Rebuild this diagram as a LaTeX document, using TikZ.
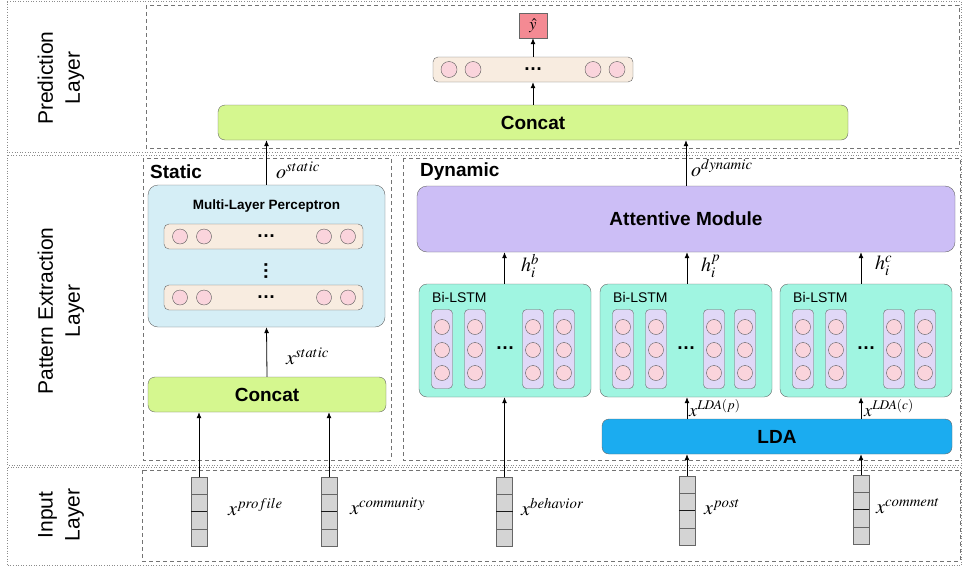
\documentclass[tikz,border=0pt]{standalone}
\usepackage{mathptmx}
\usepackage[no-math]{fontspec}
\setmainfont{Liberation Sans}
\usetikzlibrary{arrows.meta,calc,positioning}
\definecolor{catgreen}{RGB}{213,247,143}
\definecolor{mlpblue}{RGB}{213,238,246}
\definecolor{lstmgreen}{RGB}{160,245,225}
\definecolor{collav}{RGB}{224,216,247}
\definecolor{neupink}{RGB}{250,212,220}
\definecolor{rowbeige}{RGB}{248,236,224}
\definecolor{attlav}{RGB}{204,190,246}
\definecolor{ldablue}{RGB}{27,172,240}
\definecolor{yred}{RGB}{244,138,147}
\begin{document}
\begin{tikzpicture}[x=1pt, y=-1pt,
  frameout/.style = {draw=black!45, dotted, line width=0.6pt},
  framein/.style = {draw=black!55, dash pattern=on 4pt off 3pt, line width=0.6pt},
  layer/.style = {rotate=90, align=center, font=\fontsize{21}{27}\selectfont},
  head/.style = {anchor=west, inner sep=0pt, font=\fontsize{19}{22}\selectfont\bfseries},
  block/.style = {draw=black!60, rounded corners=7pt, inner sep=0pt, font=\fontsize{19}{22}\selectfont\bfseries},
  row/.style = {draw=black!60, fill=rowbeige, rounded corners=5pt, minimum width=199, minimum height=25},
  neuron/.style = {draw=black!65, fill=neupink, circle, minimum size=15, inner sep=0pt},
  col/.style = {draw=black!60, fill=collav, rounded corners=4pt, minimum width=21, minimum height=79},
  lstm/.style = {draw=black!60, fill=lstmgreen, rounded corners=8pt, minimum width=172, minimum height=113},
  vec/.style = {draw=black!60, fill=black!17, minimum width=16, minimum height=69, inner sep=0pt},
  dots/.style = {inner sep=0pt, font=\fontsize{19}{20}\selectfont\bfseries},
  lbl/.style = {anchor=west, inner sep=1pt, font=\fontsize{20}{24}\selectfont},
  arr/.style = {-{Latex[length=6pt,width=5pt]}, line width=0.8pt}]
  \useasboundingbox (0,0) rectangle (963,568);
  % layer frames
  \draw[frameout] (7,1.5) rectangle (961.5,152.5);
  \draw[frameout] (7,155) rectangle (961.5,465);
  \draw[frameout] (7,467.5) rectangle (961.5,565.5);
  \draw[framein] (146,5) rectangle (959,148);
  \draw[framein] (143,158) rectangle (391,460);
  \draw[framein] (403,158) rectangle (960,460);
  \draw[framein] (142,470) rectangle (960,561);
  \node[layer] (lpred) at (61,78) {Prediction\\Layer};
  \node[layer] (lpat) at (61,311) {Pattern Extraction\\Layer};
  \node[layer] (linp) at (61,515) {Input\\Layer};
  % prediction
  \node[block, fill=catgreen, minimum width=630, minimum height=35] (cat1) at (533,122.5) {Concat};
  \node[row, minimum width=200] (pred) at (533,69.5) {};
  \foreach \cx [count=\i] in {449,473,593,617}
    \node[neuron, minimum size=16] (p\i) at (\cx,69.5) {};
  \node[dots] (pdots) at (533,69.5) {…};
  \node[draw=black!60, fill=yred, minimum width=28, minimum height=25, inner sep=0pt, font=\fontsize{16}{18}\selectfont] (yhat) at (533,25.5) {$\hat{y}$};
  \draw[arr] (cat1.north) -- (pred.south);
  \draw[arr] (pred.north) -- (yhat.south);
  % static
  \node[head] (lstat) at (150,172) {Static};
  \node[block, fill=mlpblue, rounded corners=10pt, minimum width=237, minimum height=142] (mlp) at (266.5,256) {};
  \node[font=\fontsize{13.5}{15}\selectfont\bfseries] (mlpt) at (266.5,206) {Multi-Layer Perceptron};
  \foreach \ry [count=\j] in {236.5,297.5} {
    \node[row] (r\j) at (263.5,\ry) {};
    \foreach \cx [count=\i] in {180,204,324,348}
      \node[neuron] (r\j\i) at (\cx,\ry) {};
    \node[dots] (rd\j) at (266,\ry) {…};
  }
  \node[dots, rotate=90] (vd) at (266,271) {…};
  \node[block, fill=catgreen, minimum width=238, minimum height=35] (cat2) at (267,394.5) {Concat};
  \draw[arr] (cat2.north) -- (mlp.south);
  \node[lbl] (lxs) at (285,356) {$x^{static}$};
  \draw[arr] (mlp.north) -- (mlp.north |- cat1.south);
  \node[lbl] (los) at (275,170) {$o^{static}$};
  % dynamic
  \node[head] (ldyn) at (420,172) {Dynamic};
  \node[block, fill=attlav, rounded corners=10pt, minimum width=538, minimum height=66] (attn) at (686,219) {Attentive Module};
  \draw[arr] (attn.north) -- (attn.north |- cat1.south);
  \node[lbl] (lod) at (690,168) {$o^{dynamic}$};
  \foreach \bx [count=\i] in {505,686,866} {
    \node[lstm] (b\i) at (\bx,340.5) {};
    \node[anchor=west, inner sep=0pt, font=\fontsize{14}{16}\selectfont] (bt\i) at ({\bx-73},297) {Bi-LSTM};
    \foreach \dx [count=\j] in {-63,-30,28,59} {
      \node[col] (c\i\j) at ({\bx+\dx},349) {};
      \foreach \cy [count=\k] in {327,350,373}
        \node[neuron] (n\i\j\k) at ({\bx+\dx},\cy) {};
    }
    \node[dots] (bd\i) at (\bx,348) {…};
  }
  \node[block, fill=ldablue, minimum width=350, minimum height=35] (lda) at (777,436.5) {LDA};
  % input
  \node[vec] (prof) at (199,511.5) {};
  \node[vec] (comm) at (329,511.5) {};
  \node[vec] (beh) at (504.5,511.5) {};
  \node[vec] (post) at (687,510.5) {};
  \node[vec] (cmt) at (861,509.5) {};
  \foreach \v in {prof,comm,beh,post,cmt} {
    \draw[black!60] ($(\v.north west)!.25!(\v.south west)$) -- ($(\v.north east)!.25!(\v.south east)$);
    \draw[black!90] (\v.west) -- (\v.east);
    \draw[black!60] ($(\v.north west)!.75!(\v.south west)$) -- ($(\v.north east)!.75!(\v.south east)$);
  }
  \node[lbl] (lprof) at (227,507) {$x^{profile}$};
  \node[lbl] (lcomm) at (349,506) {$x^{community}$};
  \node[lbl] (lbeh) at (520,507) {$x^{behavior}$};
  \node[lbl] (lpost) at (703,507) {$x^{post}$};
  \node[lbl] (lcmt) at (875,506) {$x^{comment}$};
  \draw[arr] (prof.north) -- (prof.north |- cat2.south);
  \draw[arr] (comm.north) -- (comm.north |- cat2.south);
  \draw[arr] (beh.north) -- (beh.north |- b1.south);
  \draw[arr] (post.north) -- (post.north |- lda.south);
  \draw[arr] (cmt.north) -- (cmt.north |- lda.south);
  \draw[arr] (lda.north -| post) -- (b2.south -| post);
  \draw[arr] (lda.north -| cmt) -- (b3.south -| cmt);
  \node[lbl, font=\fontsize{18}{22}\selectfont] (xlp) at (688,408) {$x^{LDA(p)}$};
  \node[lbl, font=\fontsize{18}{22}\selectfont] (xlc) at (863,408) {$x^{LDA(c)}$};
  \draw[arr] (b1.north -| beh) -- (attn.south -| beh);
  \draw[arr] (b2.north -| post) -- (attn.south -| post);
  \draw[arr] (b3.north -| cmt) -- (attn.south -| cmt);
  \node[lbl] (hb) at (520,266) {$h_i^b$};
  \node[lbl] (hp) at (700,266) {$h_i^p$};
  \node[lbl] (hc) at (874,266) {$h_i^c$};
\end{tikzpicture}
\end{document}
